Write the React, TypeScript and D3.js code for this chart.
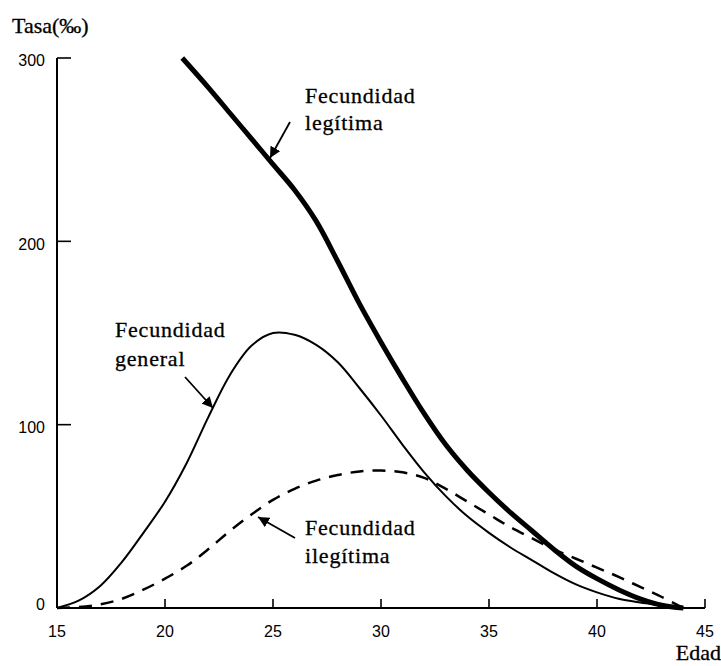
import React from 'react';
import * as d3 from 'd3';

interface Pt {
  age: number;
  rate: number;
}

// Fecundidad legítima (trazo grueso)
const legitAges = [20.8, 22, 23, 24, 25, 26, 27, 28, 29, 30, 31, 32, 33, 34, 35, 36, 37, 38, 39, 40, 41, 42, 43, 44];
const legitRates = [300, 284, 270, 256, 242, 228, 211, 189, 166, 145, 125, 106, 89, 75, 63, 52, 42, 32, 23, 16, 10, 5, 1.5, 0];

// Fecundidad general (trazo fino)
const generalAges = [15, 16, 17, 18, 19, 20, 21, 22, 23, 24, 25, 26, 27, 28, 29, 30, 31, 32, 33, 34, 35, 36, 37, 38, 39, 40, 41, 42, 43, 44];
const generalRates = [0, 4, 12, 25, 41, 58, 79, 104, 127, 143, 150, 149, 143.5, 134, 120, 105, 89, 74, 61, 50, 41, 33, 26, 19, 13, 8.5, 5, 3, 1.5, 0];

// Fecundidad ilegítima (discontinua)
const ilegitAges = [15, 16, 17, 18, 19, 20, 21, 22, 23, 24, 25, 26, 27, 28, 29, 30, 31, 32, 33, 34, 35, 36, 37, 38, 39, 40, 41, 42, 43, 44];
const ilegitRates = [0, 0.5, 2, 5, 10, 16, 23, 32, 42, 51, 59, 65, 69.5, 72.5, 74.5, 75, 74, 71, 65, 58, 51, 44, 38, 32, 27, 22, 17, 11.5, 6, 0];

const xTicks = [15, 20, 25, 30, 35, 40, 45];
const yTicks = [0, 100, 200, 300];

const W = 721;
const H = 666;

const toPts = (ages: number[], rates: number[]): Pt[] => ages.map((a, i) => ({ age: a, rate: rates[i] }));

export default function App() {
  const x = d3.scaleLinear().domain([15, 45]).range([57, 705]);
  const y = d3.scaleLinear().domain([0, 300]).range([608, 58]);

  const line = d3
    .line<Pt>()
    .x((d) => x(d.age))
    .y((d) => y(d.rate))
    .curve(d3.curveCatmullRom.alpha(0.5));

  const serif = 'Liberation Serif, Times New Roman, serif';
  const sans = 'Liberation Sans, Arial, sans-serif';

  return (
    <svg width={W} height={H} style={{ position: 'absolute', left: 0, top: 0, background: '#fff' }}>
      <defs>
        <marker id="arr" viewBox="0 0 10 10" refX="10" refY="5" markerWidth="11" markerHeight="11" markerUnits="userSpaceOnUse" orient="auto">
          <path d="M0,0 L10,5 L0,10 z" fill="#000" />
        </marker>
      </defs>

      {/* axes */}
      <line x1={x(15)} x2={x(15)} y1={y(300)} y2={y(0)} stroke="#000" strokeWidth={2} />
      <line x1={x(15)} x2={x(45)} y1={y(0)} y2={y(0)} stroke="#000" strokeWidth={2.2} />
      {yTicks.filter((t) => t > 0).map((t) => (
        <line key={'yt' + t} x1={x(15)} x2={x(15) + 14} y1={y(t)} y2={y(t)} stroke="#000" strokeWidth={1.6} />
      ))}
      {xTicks.filter((t) => t > 15).map((t) => (
        <line key={'xt' + t} x1={x(t)} x2={x(t)} y1={y(0)} y2={y(0) - 9} stroke="#000" strokeWidth={1.6} />
      ))}
      {yTicks.map((t) => (
        <text key={'yl' + t} x={x(15) - 12} y={y(t) + (t === 0 ? -2 : 4)} textAnchor="end" dominantBaseline="middle" fontFamily={sans} fontSize={16}>
          {t}
        </text>
      ))}
      {xTicks.map((t) => (
        <text key={'xl' + t} x={x(t)} y={y(0) + 29} textAnchor="middle" fontFamily={sans} fontSize={16}>
          {t}
        </text>
      ))}
      <text x={12} y={33} fontFamily={serif} fontSize={22} stroke="#000" strokeWidth={0.3}>
        Tasa(‰)
      </text>
      <text x={721} y={660} textAnchor="end" fontFamily={serif} fontSize={22} stroke="#000" strokeWidth={0.3}>
        Edad
      </text>

      {/* curves */}
      <path d={line(toPts(legitAges, legitRates)) || ''} fill="none" stroke="#000" strokeWidth={5} strokeLinejoin="round" />
      <path d={line(toPts(generalAges, generalRates)) || ''} fill="none" stroke="#000" strokeWidth={2} />
      <path d={line(toPts(ilegitAges, ilegitRates)) || ''} fill="none" stroke="#000" strokeWidth={2.5} strokeDasharray="13 9" />

      {/* labels */}
      <g fontFamily={serif} fontSize={22} letterSpacing={0.8} stroke="#000" strokeWidth={0.3}>
        <text x={305} y={103}>Fecundidad</text>
        <text x={305} y={130}>legítima</text>
        <text x={115} y={337}>Fecundidad</text>
        <text x={115} y={366}>general</text>
        <text x={305} y={535}>Fecundidad</text>
        <text x={305} y={563}>ilegítima</text>
      </g>
      <line x1={290} y1={122} x2={270} y2={158} stroke="#000" strokeWidth={1.8} markerEnd="url(#arr)" />
      <line x1={185} y1={377} x2={213} y2={408} stroke="#000" strokeWidth={1.8} markerEnd="url(#arr)" />
      <line x1={295} y1={538} x2={258} y2={517} stroke="#000" strokeWidth={1.8} markerEnd="url(#arr)" />
    </svg>
  );
}
